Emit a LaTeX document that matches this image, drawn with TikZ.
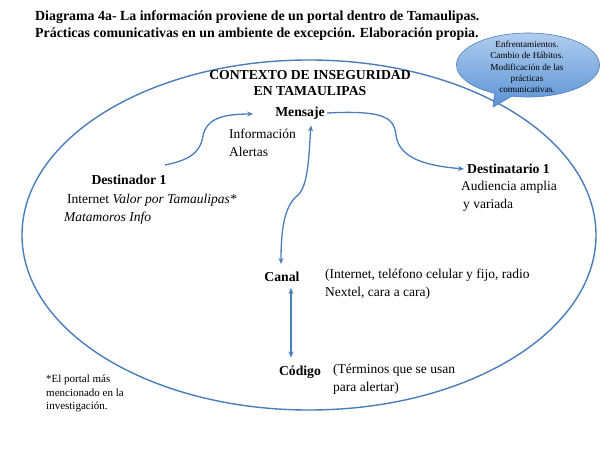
\documentclass[tikz,border=0pt]{standalone}
\usepackage{fontspec}
\setmainfont{Liberation Serif}
\usetikzlibrary{arrows.meta,shapes.callouts,shapes.geometric}
\definecolor{lineblue}{HTML}{4A7EBB}
\definecolor{calltop}{HTML}{B0CDEE}
\definecolor{callbot}{HTML}{5A92D4}
\begin{document}
\begin{tikzpicture}[x=1pt,y=-1pt,
  conn/.style={draw=lineblue,line width=1.3pt,-{Stealth[length=6pt,width=5pt]}},
  both/.style={draw=lineblue,line width=1.3pt,{Stealth[length=6pt,width=5pt]}-{Stealth[length=6pt,width=5pt]}},
  lbl/.style={font=\fontsize{13.5}{17.5}\selectfont,inner sep=0pt,align=left},
  head/.style={font=\fontsize{13.7}{16}\selectfont\bfseries,inner sep=0pt,align=center},
  note/.style={font=\fontsize{11}{13.5}\selectfont,inner sep=0pt,align=left},
  callt/.style={font=\fontsize{9.2}{11.2}\selectfont,inner sep=0pt,align=center}]
\useasboundingbox (0,0) rectangle (615,449);

% title
\node[font=\fontsize{13.9}{17}\selectfont\bfseries,inner sep=0pt,align=left,anchor=north west] (title) at (35,11)
  {Diagrama 4a- La información proviene de un portal dentro de Tamaulipas.\\
   Prácticas comunicativas en un ambiente de excepción. Elaboración propia.};

% context ellipse
\node[ellipse,draw=lineblue,line width=1.4pt,minimum width=574pt,minimum height=350pt,inner sep=0pt] (ctx) at (309,235) {};

% callout
\node[ellipse callout,draw=lineblue,line width=0.6pt,top color=calltop,bottom color=callbot,
  minimum width=143pt,minimum height=64pt,inner sep=0pt,
  callout absolute pointer={(493,107)}] (call) at (528,65) {};
\node[callt] (calltext) at (527,67) {Enfrentamientos.\\Cambio de Hábitos.\\Modificación de las\\prácticas\\comunicativas.};

\node[head] (ctxt) at (310,83) {CONTEXTO DE INSEGURIDAD\\EN TAMAULIPAS};

\node[head] (msg) at (300,113) {Mensaje};
\node[lbl,anchor=north west] (info) at (229,129) {Información\\Alertas};

\node[head] (dest) at (129,180) {Destinador 1};
\node[lbl,anchor=north west] (destinfo) at (64,194) {\hspace*{3pt}Internet \textit{Valor por Tamaulipas*}\\\textit{Matamoros Info}};

\node[head,anchor=west] (dtario) at (467,169) {Destinatario 1};
\node[lbl,anchor=north west] (dtinfo) at (461,181) {Audiencia amplia\\\hspace*{2pt}y variada};

\node[head] (canal) at (282,277) {Canal};
\node[lbl,anchor=north west] (canalinfo) at (325,269) {(Internet, teléfono celular y fijo, radio\\Nextel, cara a cara)};

\node[head] (cod) at (300,372) {Código};
\node[lbl,anchor=north west] (codinfo) at (333,364) {(Términos que se usan\\para alertar)};

\node[note,anchor=north west] (foot) at (46,375) {*El portal más\\mencionado en la\\investigación.};

% connectors
\draw[conn] ([xshift=36pt,yshift=10pt]dest.north) .. controls (185,161) and (200,155) .. (203,136)
  .. controls (206,120) and (220,114) .. ([xshift=-22pt,yshift=-1pt]msg.west);
\draw[conn] ([xshift=2pt]msg.east) .. controls (385,110) and (394,118) .. (396,135)
  .. controls (399,160) and (430,166) .. ([xshift=-3pt]dtario.west);
\draw[both] ([xshift=11pt,yshift=-6pt]msg.south) .. controls (309,150) and (309,185) .. (298,195)
  .. controls (284,206) and (281,230) .. ([xshift=-1pt,yshift=8pt]canal.north);
\draw[both] ([xshift=9pt,yshift=-6pt]canal.south) -- ([xshift=-9pt,yshift=8pt]cod.north);
\end{tikzpicture}
\end{document}
